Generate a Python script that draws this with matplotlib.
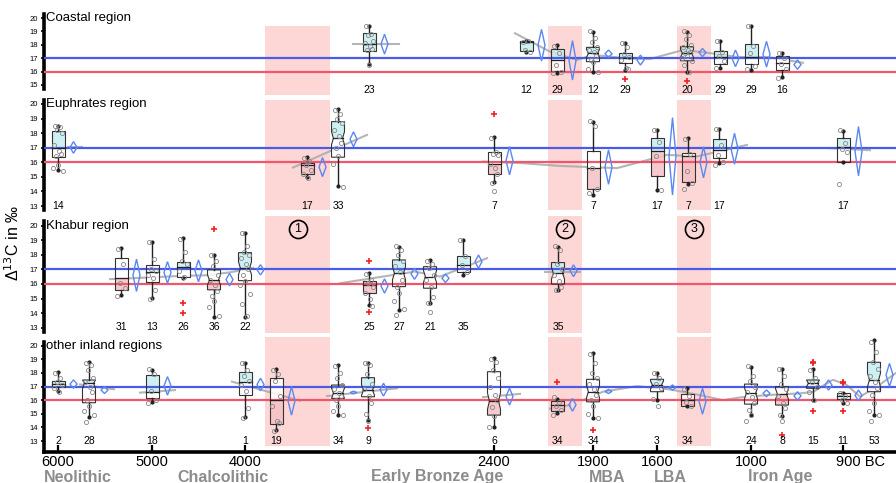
import matplotlib
matplotlib.use("Agg")
import matplotlib.pyplot as plt
from matplotlib.patches import Polygon, Rectangle
from matplotlib.transforms import ScaledTranslation

plt.rcParams['font.family'] = ['Liberation Sans', 'DejaVu Sans']

W, H = 896, 483

# time axis (x = slot position along the chronology)
tick_pos = [58, 152, 245, 494, 593, 657, 751, 843]
tick_labels = ['6000', '5000', '4000', '2400', '1900', '1600', '1000', '900 BC']
era_pos = [44, 177, 371, 589, 654, 748]
era_names = ['Neolithic', 'Chalcolithic', 'Early Bronze Age', 'MBA', 'LBA', 'Iron Age']
bands = [(265, 330), (548, 582), (677, 711)]

# ---- Coastal region ----
coastal_x = [369, 526, 557, 593, 625, 687, 720, 751, 782]
coastal_n = [23, 12, 29, 12, 29, 20, 29, 29, 16]
coastal_q1 = [17.56, 17.56, 16.07, 16.74, 16.61, 16.81, 16.57, 16.54, 16.12]
coastal_med = [18.04, 18.23, 16.87, 17.36, 16.99, 17.36, 17.07, 17.11, 16.62]
coastal_q3 = [18.86, 18.31, 17.66, 17.81, 17.36, 17.86, 17.54, 18.06, 17.16]
coastal_lo = [16.57, 17.45, 15.92, 16.0, 16.12, 16.0, 16.25, 16.12, 15.6]
coastal_hi = [19.43, 18.31, 17.99, 18.98, 18.11, 18.98, 18.31, 19.4, 17.41]
coastal_mean = [18.05, 17.97, 16.84, 17.33, 16.86, 17.42, 16.99, 17.3, 16.52]
coastal_ci = [0.74, 1.18, 1.47, 0.28, 0.37, 0.31, 0.62, 0.96, 0.35]
coastal_notch = [0, 0, 0, 0.3, 0, 0.3, 0, 0, 0]
coastal_pts = [
    [19.4, 18.8, 18.7, 18.3, 18.1, 17.9, 17.7, 17.6, 16.5],
    [18.2, 18.3, 17.6, 17.5],
    [17.9, 17.4, 16.5, 16.0, 15.9],
    [19.0, 18.5, 18.2, 17.8, 17.6, 17.5, 17.2, 16.9, 16.7, 16.2, 16.0],
    [18.1, 17.8, 17.3, 17.1, 16.9, 16.3, 16.2],
    [19.0, 18.7, 18.4, 18.0, 17.8, 17.6, 17.5, 17.4, 17.2, 17.0, 16.8, 16.5, 16.0],
    [18.3, 17.5, 17.2, 16.8, 16.3],
    [19.4, 17.9, 17.4, 16.4, 16.2],
    [17.4, 17.0, 16.6, 16.2, 15.5],
]
coastal_out = [[], [], [], [], [15.43], [15.3], [], [], []]
coastal_trend = [
    ([353, 399], [18.05, 18.05]),
    ([515, 550, 577, 593, 627, 650, 683, 707, 737, 767, 803],
     [18.86, 17.49, 16.87, 17.24, 16.99, 16.94, 17.61, 17.41, 17.09, 17.09, 16.66]),
]

# ---- Euphrates region ----
euph_x = [58, 307, 338, 494, 593, 657, 688, 719, 843]
euph_n = [14, 17, 33, 7, 7, 17, 7, 17, 17]
euph_q1 = [16.35, 15.21, 16.35, 15.21, 14.16, 15.09, 14.68, 16.28, 16.05]
euph_med = [16.97, 15.82, 17.65, 15.87, 15.6, 16.78, 16.44, 16.85, 17.08]
euph_q3 = [18.17, 15.94, 18.79, 16.73, 16.8, 17.69, 16.62, 17.6, 17.65]
euph_lo = [15.48, 15.02, 14.34, 14.64, 13.77, 14.11, 14.5, 15.94, 16.05]
euph_hi = [18.51, 16.35, 19.66, 17.72, 18.79, 18.22, 17.65, 18.27, 18.15]
euph_mean = [17.02, 15.67, 17.58, 16.11, 15.67, 16.41, 16.0, 16.93, 16.76]
euph_ci = [0.4, 0.65, 0.51, 0.97, 1.18, 2.65, 1.07, 1.06, 1.69]
euph_notch = [0, 0, 0.45, 0, 0, 0, 0, 0, 0]
euph_pts = [
    [18.5, 18.4, 18.2, 18.0, 17.2, 16.8, 16.6, 16.4, 15.8, 15.6, 15.4],
    [16.3, 16.1, 15.8, 15.5, 15.2, 14.9],
    [19.6, 19.3, 19.0, 18.7, 18.2, 17.8, 17.3, 17.0, 16.4, 15.9, 14.3],
    [17.7, 16.7, 16.6, 16.5, 15.9, 15.6, 15.2, 14.6, 14.0],
    [18.8, 18.5, 15.6, 14.2, 13.9],
    [18.2, 17.4, 16.4, 14.1],
    [17.6, 16.6, 15.4, 14.6, 14.2],
    [18.3, 17.2, 16.5, 16.0, 15.8],
    [18.2, 17.3, 16.9, 16.7, 14.5],
]
euph_out = [[], [], [], [19.32], [], [], [], [], []]
euph_trend = [
    ([68, 82], [17.05, 17.05]),
    ([293, 367], [15.64, 17.88]),
    ([483, 520, 560, 617, 667, 697, 747], [16.05, 15.95, 15.75, 15.6, 16.51, 16.4, 17.19]),
    ([830, 870], [16.97, 16.83]),
]

# ---- Khabur region ----
khab_x = [121, 152, 183, 214, 245, 369, 399, 430, 463, 558]
khab_n = [31, 13, 26, 36, 22, 25, 27, 21, 35, 35]
khab_q1 = [15.6, 16.16, 16.51, 15.6, 16.23, 15.37, 15.82, 15.71, 16.85, 15.99]
khab_med = [16.4, 16.85, 17.15, 16.28, 17.08, 15.94, 16.74, 16.51, 17.31, 16.74]
khab_q3 = [17.77, 17.31, 17.53, 16.97, 18.15, 16.23, 17.65, 17.19, 17.95, 17.47]
khab_lo = [15.25, 15.03, 16.4, 13.77, 13.77, 14.57, 14.23, 14.68, 16.62, 15.6]
khab_hi = [18.45, 18.9, 19.14, 17.99, 19.52, 16.74, 18.56, 17.65, 19.02, 18.56]
khab_mean = [16.6, 16.79, 16.9, 16.3, 16.97, 15.86, 16.7, 16.39, 17.53, 16.91]
khab_ci = [1.11, 0.74, 0.75, 0.43, 0.35, 0.49, 0.38, 0.29, 0.46, 0.4]
khab_notch = [0, 0, 0, 0.35, 0.45, 0, 0.45, 0.4, 0, 0.4]
khab_pts = [
    [18.4, 17.4, 16.1, 15.7, 15.2],
    [18.9, 17.7, 17.0, 16.9, 16.6, 16.4, 15.6, 15.0],
    [19.1, 18.2, 17.6, 17.4, 16.9, 16.5],
    [18.0, 17.6, 17.2, 16.6, 16.3, 15.9, 15.5, 15.2, 14.8, 14.4, 13.8],
    [19.5, 18.6, 18.2, 18.0, 17.8, 17.4, 17.0, 16.6, 16.2, 15.9, 15.3, 14.6, 13.8],
    [16.7, 16.3, 16.1, 15.8, 15.4, 15.0, 14.5],
    [18.6, 18.3, 18.0, 17.6, 17.2, 16.8, 16.3, 15.8, 15.4, 14.8, 14.3, 13.9],
    [17.6, 17.4, 17.1, 16.6, 16.3, 15.8, 15.1, 14.7, 14.1],
    [19.0, 17.9, 17.3, 16.8],
    [18.6, 18.3, 17.4, 17.0, 16.6, 16.2, 15.8, 15.6],
]
khab_out = [[], [], [14.68, 14.04], [19.75], [], [17.6, 14.11], [], [], [], []]
khab_trend = [
    ([110, 150, 180, 207, 230, 253], [16.33, 16.45, 16.55, 16.6, 16.8, 17.1]),
    ([340, 383, 415, 440, 470, 487], [16.05, 16.51, 16.85, 16.51, 17.31, 17.77]),
    ([545, 580], [16.8, 16.8]),
]

# ---- other inland regions ----
oth_x = [58, 89, 152, 245, 276, 338, 368, 494, 557, 593, 657, 687, 751, 782, 813, 843, 874]
oth_n = [2, 28, 18, 1, 19, 34, 9, 6, 34, 34, 3, 34, 24, 8, 15, 11, 53]
oth_q1 = [16.94, 15.81, 16.13, 16.37, 14.24, 16.13, 16.25, 14.9, 15.2, 15.88, 16.62, 15.57, 15.71, 15.64, 16.87, 16.08, 16.62]
oth_med = [17.18, 17.24, 16.62, 17.35, 16.0, 16.5, 16.74, 15.93, 15.64, 16.62, 17.11, 16.0, 16.5, 16.45, 17.24, 16.3, 17.48]
oth_q3 = [17.43, 17.48, 17.85, 18.09, 17.65, 17.11, 17.65, 18.09, 15.96, 17.53, 17.53, 16.45, 17.18, 16.99, 17.48, 16.5, 18.78]
oth_lo = [16.7, 14.74, 15.9, 14.78, 13.8, 14.9, 14.54, 14.04, 15.05, 14.66, 16.0, 15.57, 14.9, 14.83, 16.0, 15.8, 14.9]
oth_hi = [18.04, 18.78, 18.21, 18.7, 18.26, 18.58, 18.75, 19.07, 16.12, 19.44, 18.01, 16.87, 18.46, 18.26, 18.26, 16.5, 20.4]
oth_mean = [17.18, 16.74, 17.05, 17.15, 15.95, 16.56, 16.77, 16.26, 15.66, 16.64, 16.92, 15.92, 16.5, 16.31, 17.11, 16.35, 17.85]
oth_ci = [0.31, 0.25, 0.68, 0.46, 1.05, 0.1, 0.47, 0.62, 0.47, 0.15, 0.19, 0.95, 0.25, 0.31, 0.37, 0.39, 0.85]
oth_notch = [0, 0.4, 0, 0, 0, 0.4, 0.4, 0.6, 0, 0.45, 0.3, 0, 0.4, 0.4, 0.25, 0, 0.5]
oth_pts = [
    [18.0, 17.6, 17.3, 17.1, 16.9, 16.6],
    [18.7, 18.6, 18.2, 17.6, 17.3, 17.0, 16.6, 16.0, 15.6, 15.2, 14.9, 14.4],
    [18.3, 17.9, 16.7, 16.0, 15.8],
    [18.7, 18.2, 17.8, 17.4, 17.1, 16.7, 15.4, 14.7],
    [18.2, 17.9, 17.4, 16.3, 15.6, 14.5, 14.3, 13.7],
    [18.5, 18.0, 17.6, 17.1, 16.8, 16.5, 16.3, 16.0, 15.6, 15.2, 14.9],
    [18.7, 18.6, 17.9, 17.2, 16.8, 16.3, 15.8, 15.0, 14.5],
    [19.0, 18.8, 18.2, 17.6, 17.0, 16.4, 16.0, 15.5, 14.8, 14.0],
    [16.2, 15.9, 15.6, 15.3, 14.9],
    [19.4, 18.7, 18.0, 17.6, 17.2, 16.8, 16.4, 16.0, 15.6, 15.0, 14.7],
    [18.0, 17.6, 17.2, 16.9, 16.1, 15.6],
    [16.8, 16.3, 15.9, 15.6],
    [18.5, 17.8, 17.4, 17.0, 16.6, 16.2, 15.8, 15.3, 14.9, 14.5],
    [18.3, 17.8, 17.2, 16.8, 16.3, 15.8, 15.4, 14.9, 14.5],
    [18.2, 17.6, 17.3, 17.0, 16.6, 16.0],
    [16.5, 16.3, 16.0, 15.8],
    [20.3, 19.5, 18.8, 18.3, 17.8, 17.3, 16.9, 16.4, 15.8, 15.2, 14.9, 14.5],
]
oth_out = [[], [], [], [], [], [], [13.92], [], [17.35], [13.8], [], [], [], [13.43],
           [18.83, 18.7, 15.22], [17.35, 17.24, 15.2], []]
oth_trend = [
    ([80, 114], [17.15, 16.8]),
    ([140, 175], [16.55, 16.74]),
    ([232, 300], [17.36, 15.96]),
    ([327, 397], [16.3, 16.87]),
    ([483, 520], [16.22, 16.46]),
    ([550, 570], [15.38, 15.64]),
    ([583, 603, 637, 670, 700, 723, 740, 767, 800, 813, 833, 847, 860, 877, 896],
     [16.0, 16.62, 17.03, 16.79, 16.37, 16.0, 16.2, 16.37, 16.5, 16.6, 17.5, 17.1, 16.25, 17.0, 18.0]),
]

BLUE = '#4a5ce6'
RED = '#f2566c'
CYAN = '#c6eef1'
PINK = '#f5c0c4'
BAND = '#fdd6d6'
DIA = '#5a87f2'
JIT = [-3, 2, -1, 4, -4, 1, 3, -2, 0, -5, 5]


def half_color(lo, hi):
    mid = (lo + hi) / 2
    if mid > 17.1:
        return CYAN
    if mid < 16.1:
        return PINK
    return 'white'


def draw_box(ax, x, q1, med, q3, lo, hi, notch, pts, outs, mean, ci):
    w, nw = 6.5, 4.6
    if notch > 0:
        a = max(q1, med - notch)
        b = min(q3, med + notch)
        lower = [(x - w, q1), (x + w, q1), (x + w, a), (x + nw, med), (x - nw, med), (x - w, a)]
        upper = [(x - nw, med), (x + nw, med), (x + w, b), (x + w, q3), (x - w, q3), (x - w, b)]
        outline = [(x - w, q1), (x + w, q1), (x + w, a), (x + nw, med), (x + w, b), (x + w, q3),
                   (x - w, q3), (x - w, b), (x - nw, med), (x - w, a)]
        mw = nw
    else:
        lower = [(x - w, q1), (x + w, q1), (x + w, med), (x - w, med)]
        upper = [(x - w, med), (x + w, med), (x + w, q3), (x - w, q3)]
        outline = [(x - w, q1), (x + w, q1), (x + w, q3), (x - w, q3)]
        mw = w
    ax.add_patch(Polygon(lower, closed=True, fc=half_color(q1, med), ec='none', alpha=0.85, zorder=2, clip_on=False))
    ax.add_patch(Polygon(upper, closed=True, fc=half_color(med, q3), ec='none', alpha=0.85, zorder=2, clip_on=False))
    ax.add_patch(Polygon(outline, closed=True, fc='none', ec='#333333', lw=0.8, zorder=4, clip_on=False))
    ax.plot([x - mw, x + mw], [med, med], color='#222222', lw=0.9, zorder=4, clip_on=False)
    ax.plot([x, x], [q3, hi], color='#222222', lw=1.0, zorder=4, clip_on=False)
    ax.plot([x, x], [lo, q1], color='#222222', lw=1.0, zorder=4, clip_on=False)
    ax.plot([x, x], [lo, hi], ls='none', marker='o', ms=2, color='#222222', zorder=4, clip_on=False)
    for i, p in enumerate(pts):
        ax.plot(x + JIT[i % len(JIT)], p, ls='none', marker='o', ms=3, mfc='none',
                mec='#888888', mew=0.6, zorder=5, clip_on=False)
    for o in outs:
        ax.plot(x, o, ls='none', marker='+', ms=4, mew=1.2, color='#ee2222', zorder=5, clip_on=False)
    dx, dw = x + 15.5, 3.5
    ax.add_patch(Polygon([(dx, mean + ci), (dx + dw, mean), (dx, mean - ci), (dx - dw, mean)],
                         closed=True, fc='none', ec=DIA, lw=1.0, zorder=4, clip_on=False))


fig = plt.figure(figsize=(W / 100, H / 100), dpi=100)

panels = [
    ('Coastal region', 14.0, 89.0, (14.7, 20.3), range(15, 21), (14.25, 19.4), 14.65,
     coastal_x, coastal_n, coastal_q1, coastal_med, coastal_q3, coastal_lo, coastal_hi,
     coastal_notch, coastal_pts, coastal_out, coastal_mean, coastal_ci, coastal_trend),
    ('Euphrates region', 99.6, 210.4, (12.7, 20.3), range(13, 21), (12.73, 20.27), 13.0,
     euph_x, euph_n, euph_q1, euph_med, euph_q3, euph_lo, euph_hi,
     euph_notch, euph_pts, euph_out, euph_mean, euph_ci, euph_trend),
    ('Khabur region', 221.3, 332.1, (12.7, 20.3), range(13, 21), (12.64, 20.66), 13.05,
     khab_x, khab_n, khab_q1, khab_med, khab_q3, khab_lo, khab_hi,
     khab_notch, khab_pts, khab_out, khab_mean, khab_ci, khab_trend),
    ('other inland regions', 341.6, 451.9, (12.2, 20.3), range(13, 21), (12.63, 20.64), 13.0,
     oth_x, oth_n, oth_q1, oth_med, oth_q3, oth_lo, oth_hi,
     oth_notch, oth_pts, oth_out, oth_mean, oth_ci, oth_trend),
]

axes = []
for (title, top, bot, ylim, yt, bandy, ny, xs, ns, q1s, meds, q3s, los, his,
     notches, ptss, outss, means, cis, trends) in panels:
    ax = fig.add_axes([44 / W, 1 - bot / H, (W - 44) / W, (bot - top) / H])
    ax.set_xlim(44, 896)
    ax.set_ylim(*ylim)
    for s in ['top', 'right', 'bottom']:
        ax.spines[s].set_visible(False)
    ax.spines['left'].set_linewidth(2.6)
    ax.set_yticks(list(yt))
    ax.tick_params(axis='y', labelsize=5.5, length=2.5, width=1.2, pad=1.5)
    ax.set_xticks([])
    ax.patch.set_alpha(0)

    for b0, b1 in bands:
        ax.add_patch(Rectangle((b0, bandy[0]), b1 - b0, bandy[1] - bandy[0], fc=BAND, ec='none',
                               zorder=0.5, clip_on=False))
    ax.axhline(17, color=BLUE, lw=1.6, zorder=3)
    ax.axhline(16, color=RED, lw=1.6, zorder=3)

    for tx, ty in trends:
        ax.plot(tx, ty, color='#a8a8a8', lw=1.5, alpha=0.85, zorder=1.5, clip_on=False)

    for i in range(len(xs)):
        draw_box(ax, xs[i], q1s[i], meds[i], q3s[i], los[i], his[i], notches[i],
                 ptss[i], outss[i], means[i], cis[i])
        ax.text(xs[i], ny, str(ns[i]), ha='center', va='center', fontsize=7.5, zorder=6)

    ax.text(46, 20, title, ha='left', va='center', fontsize=9.5, zorder=6)
    axes.append(ax)

# circled markers in the Khabur panel
for k, (b0, b1) in enumerate(bands):
    cx = (b0 + b1) / 2
    axes[2].plot(cx, 19.77, ls='none', marker='o', ms=13, mfc='none', mec='black', mew=1.2,
                 zorder=6, clip_on=False)
    axes[2].text(cx, 19.75, str(k + 1), ha='center', va='center', fontsize=9, zorder=6)

# time axis on the bottom panel
ax = axes[3]
ax.spines['bottom'].set_visible(True)
ax.spines['bottom'].set_linewidth(2.6)
ax.set_xticks(tick_pos)
ax.set_xticklabels(tick_labels)
ax.tick_params(axis='x', direction='in', length=5, width=1.6, labelsize=10.5, pad=2)
last = ax.get_xticklabels()[-1]
last.set_horizontalalignment('left')
last.set_transform(last.get_transform() + ScaledTranslation(-0.07, 0, fig.dpi_scale_trans))

for xp, name in zip(era_pos, era_names):
    fig.text(xp / W, 1 - 477 / H, name, ha='left', va='center', fontsize=11.5,
             fontweight='bold', color='#8c8c8c')

fig.text(13 / W, 1 - 243 / H, 'Δ$^{13}$C in ‰', rotation=90, ha='center', va='center', fontsize=11.5)

fig.savefig('out.png', dpi=100)
